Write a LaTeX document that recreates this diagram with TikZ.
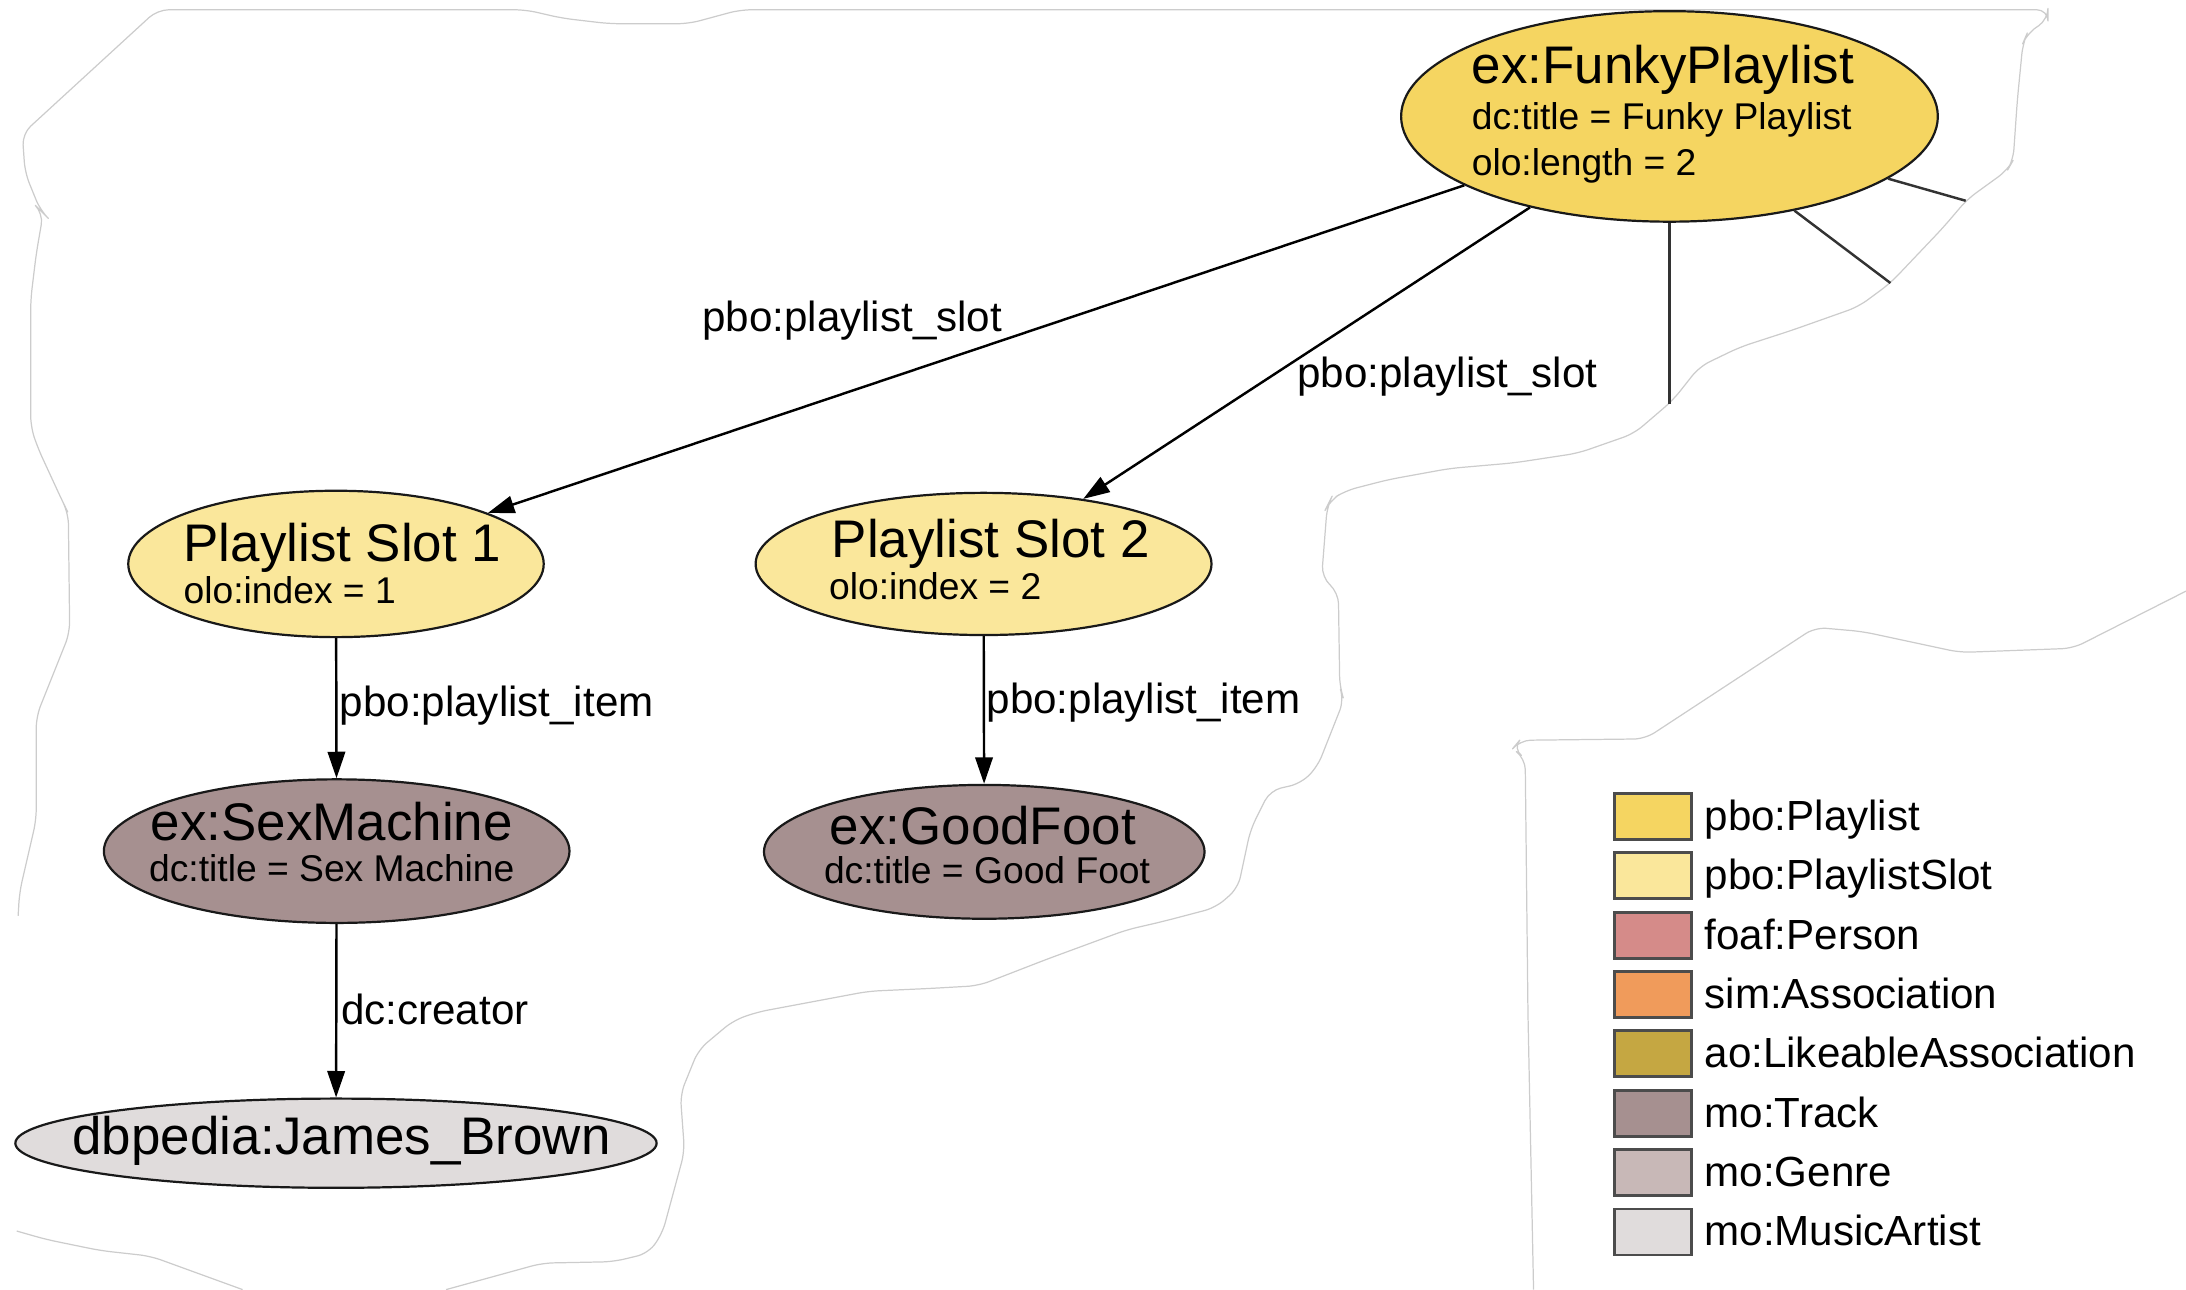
\documentclass[tikz,border=0pt]{standalone}
\usepackage{fontspec}
\setmainfont{Liberation Sans}
\usetikzlibrary{arrows.meta}
\usetikzlibrary{shapes.geometric}
\tikzset{>={Triangle[length=1.9mm,width=1.25mm]}}
\definecolor{playlist}{HTML}{F5D561}
\definecolor{playlistslot}{HTML}{FAE79B}
\definecolor{person}{HTML}{D58B89}
\definecolor{assoc}{HTML}{F09B5B}
\definecolor{likeable}{HTML}{C5A742}
\definecolor{track}{HTML}{A69090}
\definecolor{genre}{HTML}{C8B8B7}
\definecolor{artist}{HTML}{E0DCDC}
\tikzset{
  res/.style={ellipse, draw=black!90, line width=0.45pt, inner sep=0pt},
  rel/.style={->, line width=0.5pt},
  cutrel/.style={line width=0.5pt, draw=black!80},
  torn/.style={draw=gray!40, line width=0.25pt, line join=round, rounded corners=0.8mm},
  bigtxt/.style={font=\fontsize{10.8}{13}\selectfont, inner sep=0pt},
  smalltxt/.style={font=\fontsize{7.6}{9}\selectfont, inner sep=0pt},
  lbl/.style={font=\fontsize{8.6}{10}\selectfont, inner sep=0pt, anchor=base west},
  swatch/.style={draw=black!70, line width=0.6pt, minimum width=5.5mm, minimum height=3.3mm, inner sep=0pt}
}

\begin{document}
\begin{tikzpicture}[x=0.1mm, y=-0.1mm]
  \useasboundingbox (0,0) rectangle (1568,925);

  % torn paper edges
  \draw[torn] (13,657) -- (14,640) -- (26,588) -- (26,514) -- (50,454) -- (49,368) -- (45,360)
    -- (27,321) -- (22,306) -- (22,215) -- (26,182) -- (31,153) -- (29,151) -- (18,124) -- (16,96)
    -- (113,7) -- (377,7) -- (403,13) -- (437,17) -- (494,17) -- (531,7) -- (1469,7) -- (1469,14)
    -- (1454,24) -- (1451,31) -- (1447,72) -- (1444,115) -- (1440,122) -- (1411,143) -- (1394,163)
    -- (1356,203) -- (1333,220) -- (1285,237) -- (1248,249) -- (1219,263) -- (1200,287)
    -- (1172,311) -- (1132,325) -- (1086,332) -- (1040,336) -- (996,344) -- (965,352) -- (954,359)
    -- (952,363) -- (948,414) -- (960,425) -- (961,493) -- (964,502) -- (945,550) -- (933,562)
    -- (911,567) -- (897,595) -- (888,637) -- (872,651) -- (834,661) -- (808,667) -- (751,688)
    -- (702,707) -- (667,709) -- (623,711) -- (543,726) -- (526,732) -- (501,753) -- (488,785)
    -- (491,826) -- (475,885) -- (465,899) -- (440,905) -- (389,906) -- (320,925);
  \draw[torn] (12,883) -- (33,889) -- (72,897) -- (108,901) -- (174,925);
  \draw[torn] (1568,424) -- (1487,465) -- (1406,468) -- (1336,453) -- (1302,450) -- (1180,530)
    -- (1090,531) -- (1085,537) -- (1094,544) -- (1096,727) -- (1100,925);

  % resources
  \node[res, fill=playlist, minimum width=38.5mm, minimum height=15.1mm] (funky) at (1197.5,83.5) {};
  \node[res, fill=playlistslot, minimum width=29.8mm, minimum height=10.5mm] (slot1) at (241,404.5) {};
  \node[res, fill=playlistslot, minimum width=32.7mm, minimum height=10.2mm] (slot2) at (705.5,404.5) {};
  \node[res, fill=track, minimum width=33.4mm, minimum height=10.3mm] (sexmachine) at (241.5,610.5) {};
  \node[res, fill=track, minimum width=31.6mm, minimum height=9.6mm] (goodfoot) at (706,611) {};
  \node[res, fill=artist, minimum width=46mm, minimum height=6.4mm] (jamesbrown) at (241,820) {};

  % resource texts
  \node[bigtxt, anchor=base west] (funky-name) at (1055,60) {ex:FunkyPlaylist};
  \node[smalltxt, anchor=base west] (funky-title) at (1055,93) {dc:title = Funky Playlist};
  \node[smalltxt, anchor=base west] (funky-length) at (1055,126) {olo:length = 2};
  \node[bigtxt, anchor=base west] (slot1-name) at (131,403) {Playlist Slot 1};
  \node[smalltxt, anchor=base west] (slot1-index) at (131,433) {olo:index = 1};
  \node[bigtxt, anchor=base west] (slot2-name) at (596,400) {Playlist Slot 2};
  \node[smalltxt, anchor=base west] (slot2-index) at (594,430) {olo:index = 2};
  \node[bigtxt, anchor=base] (sexmachine-name) at (238,603) {ex:SexMachine};
  \node[smalltxt, anchor=base] (sexmachine-title) at (238,632) {dc:title = Sex Machine};
  \node[bigtxt, anchor=base] (goodfoot-name) at (705,606) {ex:GoodFoot};
  \node[smalltxt, anchor=base] (goodfoot-title) at (708,634) {dc:title = Good Foot};
  \node[bigtxt, anchor=base] (jamesbrown-name) at (245,828) {dbpedia:James\_Brown};

  % relations
  \draw[rel] (funky) -- (slot1);
  \draw[rel] (funky) -- (slot2);
  \draw[rel] (slot1) -- (sexmachine);
  \draw[rel] (slot2) -- (goodfoot);
  \draw[rel] (sexmachine) -- (jamesbrown);

  % relations cut off by the torn edge
  \coordinate (cut1) at (1410,144);
  \coordinate (cut2) at (1356,203);
  \coordinate (cut3) at (1197.5,290);
  \draw[cutrel] (funky) -- (cut1);
  \draw[cutrel] (funky) -- (cut2);
  \draw[cutrel] (funky) -- (cut3);

  % relation labels
  \node[lbl] (slot1-lbl) at (503,238) {pbo:playlist\_slot};
  \node[lbl] (slot2-lbl) at (930,278) {pbo:playlist\_slot};
  \node[lbl] (item1-lbl) at (243,514) {pbo:playlist\_item};
  \node[lbl] (item2-lbl) at (707,512) {pbo:playlist\_item};
  \node[lbl] (creator-lbl) at (244,735) {dc:creator};

  % legend
  \node[swatch, fill=playlist] (sw1) at (1185.5,585.5) {};
  \node[swatch, fill=playlistslot] (sw2) at (1185.5,628.1) {};
  \node[swatch, fill=person] (sw3) at (1185.5,670.7) {};
  \node[swatch, fill=assoc] (sw4) at (1185.5,713.3) {};
  \node[swatch, fill=likeable] (sw5) at (1185.5,755.9) {};
  \node[swatch, fill=track] (sw6) at (1185.5,798.5) {};
  \node[swatch, fill=genre] (sw7) at (1185.5,841.1) {};
  \node[swatch, fill=artist] (sw8) at (1185.5,883.7) {};
  \node[lbl] (leg1) at (1222,595.5) {pbo:Playlist};
  \node[lbl] (leg2) at (1222,638.1) {pbo:PlaylistSlot};
  \node[lbl] (leg3) at (1222,680.7) {foaf:Person};
  \node[lbl] (leg4) at (1222,723.3) {sim:Association};
  \node[lbl] (leg5) at (1222,765.9) {ao:LikeableAssociation};
  \node[lbl] (leg6) at (1222,808.5) {mo:Track};
  \node[lbl] (leg7) at (1222,851.1) {mo:Genre};
  \node[lbl] (leg8) at (1222,893.7) {mo:MusicArtist};
\end{tikzpicture}
\end{document}
